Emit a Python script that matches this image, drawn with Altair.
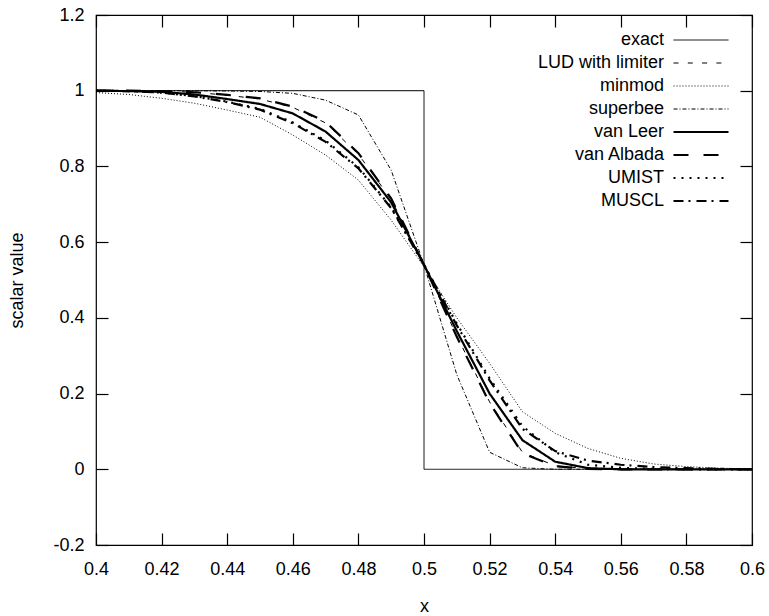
import altair as alt
import pandas as pd

# ---- data ----
x_grid = [0.40, 0.41, 0.42, 0.43, 0.44, 0.45, 0.46, 0.47, 0.48, 0.49, 0.50,
          0.51, 0.52, 0.53, 0.54, 0.55, 0.56, 0.57, 0.58, 0.59, 0.60]

exact_x = [0.4, 0.5, 0.5, 0.6]
exact_y = [1.0, 1.0, 0.0, 0.0]

lud_y = [1.0, 1.0, 0.999, 0.996, 0.988, 0.978, 0.956, 0.915, 0.832, 0.713, 0.54,
         0.352, 0.178, 0.045, 0.009, 0.002, 0.0, 0.0, 0.0, 0.0, 0.0]
minmod_y = [0.995, 0.99, 0.98, 0.967, 0.949, 0.93, 0.883, 0.83, 0.764, 0.658, 0.535,
            0.40, 0.28, 0.152, 0.095, 0.055, 0.029, 0.014, 0.007, 0.003, 0.001]
superbee_y = [1.0, 1.0, 1.0, 1.0, 0.9995, 0.998, 0.993, 0.975, 0.936, 0.79, 0.54,
              0.25, 0.045, 0.004, 0.0, 0.0, 0.0, 0.0, 0.0, 0.0, 0.0]
vanleer_y = [1.0, 0.999, 0.997, 0.99, 0.978, 0.965, 0.94, 0.892, 0.817, 0.705, 0.54,
             0.365, 0.20, 0.077, 0.02, 0.003, 0.0, 0.0, 0.0, 0.0, 0.0]
vanalbada_y = [1.0, 1.0, 0.999, 0.996, 0.989, 0.98, 0.958, 0.918, 0.835, 0.715, 0.54,
               0.35, 0.175, 0.042, 0.008, 0.001, 0.0, 0.0, 0.0, 0.0, 0.0]
umist_y = [1.0, 0.999, 0.995, 0.986, 0.971, 0.952, 0.916, 0.868, 0.798, 0.692, 0.54,
           0.385, 0.24, 0.114, 0.045, 0.012, 0.004, 0.001, 0.0, 0.0, 0.0]
muscl_y = [1.0, 0.999, 0.995, 0.985, 0.97, 0.95, 0.914, 0.865, 0.795, 0.69, 0.54,
           0.38, 0.235, 0.107, 0.048, 0.023, 0.012, 0.006, 0.003, 0.001, 0.0]

series_names = ["exact", "LUD with limiter", "minmod", "superbee",
                "van Leer", "van Albada", "UMIST", "MUSCL"]
series_dash = [[1, 0], [5, 9.3], [1, 2], [4, 2, 1, 2],
               [1, 0], [15, 15], [2, 6], [10, 5, 2, 6]]
series_width = [1, 1, 1, 1, 2.2, 2.2, 2.2, 2.2]

x_ticks = [0.4, 0.42, 0.44, 0.46, 0.48, 0.5, 0.52, 0.54, 0.56, 0.58, 0.6]
y_ticks = [-0.2, 0, 0.2, 0.4, 0.6, 0.8, 1, 1.2]

# ---- build long table ----
rows = []
for i, (xv, yv) in enumerate(zip(exact_x, exact_y)):
    rows.append({"series": "exact", "x": xv, "y": yv, "i": i})
for name, ys in [("LUD with limiter", lud_y), ("minmod", minmod_y),
                 ("superbee", superbee_y), ("van Leer", vanleer_y),
                 ("van Albada", vanalbada_y), ("UMIST", umist_y),
                 ("MUSCL", muscl_y)]:
    for i, (xv, yv) in enumerate(zip(x_grid, ys)):
        rows.append({"series": name, "x": xv, "y": yv, "i": i})
df = pd.DataFrame(rows)

FONT = "Liberation Sans"
FS = 18

xscale = alt.Scale(domain=[0.4, 0.6], nice=False, zero=False)
yscale = alt.Scale(domain=[-0.2, 1.2], nice=False, zero=False)

legend = alt.Legend(orient="none", legendX=596, legendY=16,
                    title=None,
                    symbolType="M-13.75,0H13.75",
                    symbolSize=16,
                    symbolStrokeColor="black",
                    symbolFillColor="transparent",
                    labelAlign="right", labelOffset={"expr": "-46"},
                    labelFontSize=FS, labelFont=FONT,
                    labelColor="black",
                    rowPadding=5, padding=0, labelLimit=0)

tick_style = dict(ticks=True, tickColor="black", tickWidth=1.2,
                  tickSize={"expr": "-12"},
                  domain=False, grid=False, labelFlush=False)

lines = alt.Chart(df).mark_line(color="black", strokeCap="butt", clip=True).encode(
    x=alt.X("x:Q", scale=xscale,
            axis=alt.Axis(orient="bottom", values=x_ticks, labelPadding=27,
                          labelExpr="'' + datum.value", title="x",
                          titlePadding=19, titleFontWeight="normal", **tick_style)),
    y=alt.Y("y:Q", scale=yscale,
            axis=alt.Axis(orient="left", values=y_ticks, labelPadding=24,
                          labelExpr="'' + datum.value", title="scalar value",
                          titlePadding=26, titleFontWeight="normal", **tick_style)),
    strokeDash=alt.StrokeDash("series:N",
                              scale=alt.Scale(domain=series_names, range=series_dash),
                              legend=legend),
    strokeWidth=alt.StrokeWidth("series:N",
                                scale=alt.Scale(type="ordinal", domain=series_names,
                                                range=series_width),
                                legend=legend),
    order="i:Q",
    detail="series:N",
)

mirror = alt.Chart(df).mark_point(opacity=0).encode(
    x=alt.X("x:Q", scale=xscale,
            axis=alt.Axis(orient="top", values=x_ticks, labels=False, title=None,
                          **tick_style)),
    y=alt.Y("y:Q", scale=yscale,
            axis=alt.Axis(orient="right", values=y_ticks, labels=False, title=None,
                          **tick_style)),
)

chart = alt.layer(lines, mirror).resolve_axis(x="independent", y="independent").properties(
    width=656, height=530,
    autosize=alt.AutoSizeParams(type="none"),
    padding={"left": 96, "top": 15, "right": 17, "bottom": 71},
    background="white",
).configure_view(stroke="black", strokeWidth=1.2).configure_axis(
    labelFont=FONT, labelFontSize=FS, labelColor="black",
    titleFont=FONT, titleFontSize=FS, titleColor="black",
)

chart.save("out.html", embed_options={"renderer": "svg", "actions": False})
